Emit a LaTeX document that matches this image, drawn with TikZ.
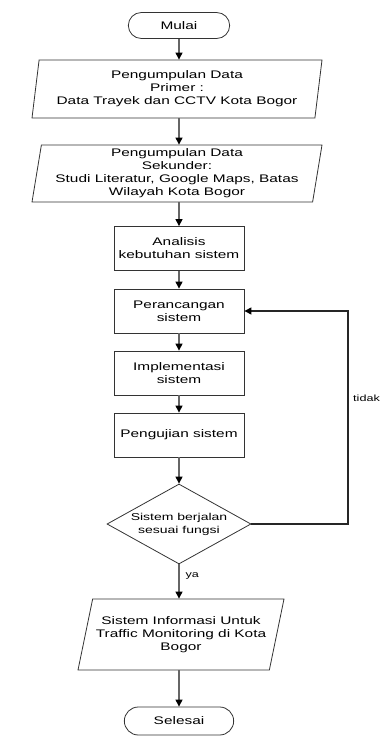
\documentclass[tikz,border=0pt]{standalone}
\usepackage{fontspec}
\setmainfont{Liberation Sans}[FakeStretch=1.4]
\usetikzlibrary{shapes.geometric, shapes.misc, arrows.meta}

\tikzset{
  terminal/.style={draw=black!80, line width=0.8pt, rounded rectangle, minimum width=108pt, minimum height=26pt},
  proses/.style={draw=black!80, line width=0.8pt, rectangle, minimum width=130pt, minimum height=44pt, align=center},
  data/.style={draw=black!80, line width=0.8pt, trapezium, trapezium stretches body, align=center, inner xsep=0pt, inner ysep=2pt},
  keputusan/.style={draw=black!80, line width=0.8pt, diamond, aspect=1.8, minimum width=144pt, minimum height=80pt, align=center, inner sep=0pt, font=\fontsize{10}{13}\selectfont},
  panah/.style={draw=black!60, line width=1.1pt, -{Triangle[width=7pt,length=7pt,color=black]}},
  label kecil/.style={font=\fontsize{9}{11}\selectfont, inner sep=0pt}
}

\begin{document}
\begin{tikzpicture}[x=1pt, y=1pt, font=\fontsize{11}{13}\selectfont]
        \useasboundingbox (0,0) rectangle (384,-738);

        % Alur utama
        \node[terminal] (mulai) at (179,-25.5) {Mulai};
        \node[data, trapezium left angle=80, trapezium right angle=100,
              minimum width=290pt, minimum height=58pt] (primer) at (177,-89)
          {Pengumpulan Data\\Primer :\\Data Trayek dan CCTV Kota Bogor};
        \node[data, trapezium left angle=80, trapezium right angle=100,
              minimum width=290pt, minimum height=57pt] (sekunder) at (177,-173.5)
          {Pengumpulan Data\\Sekunder:\\Studi Literatur, Google Maps, Batas\\Wilayah Kota Bogor};
        \node[proses] (analisis) at (179,-248.5) {Analisis\\kebutuhan sistem};
        \node[proses] (rancang) at (179,-311) {Perancangan\\sistem};
        \node[proses] (implementasi) at (179,-373) {Implementasi\\sistem};
        \node[proses] (uji) at (179,-435) {Pengujian sistem};
        \node[keputusan] (cek) at (179,-524) {Sistem berjalan\\sesuai fungsi};
        \node[data, trapezium left angle=70, trapezium right angle=110,
              minimum width=206pt, minimum height=71pt] (hasil) at (181,-634.5)
          {Sistem Informasi Untuk\\Traffic Monitoring di Kota\\Bogor};
        \node[terminal, minimum width=116pt, minimum height=28pt] (selesai) at (179,-721) {Selesai};

        \draw[panah] (mulai.south) -- (mulai.south |- primer.north);
        \draw[panah] (mulai.south |- primer.south) -- (mulai.south |- sekunder.north);
        \draw[panah] (analisis.north |- sekunder.south) -- (analisis.north);
        \draw[panah] (analisis) -- (rancang);
        \draw[panah] (rancang) -- (implementasi);
        \draw[panah] (implementasi) -- (uji);
        \draw[panah] (uji) -- (cek);
        \draw[panah] (cek.south) -- (cek.south |- hasil.north)
          node[label kecil, pos=0.35, anchor=west, xshift=6pt] (ya) {ya};
        \draw[panah] (selesai.north |- hasil.south) -- (selesai.north);

        % Kembali ke perancangan
        \coordinate (pojok) at (348,-524);
        \draw[panah, draw=black!85] (cek.east) -- (pojok) |- (rancang.east);
        \node[label kecil, anchor=west] (tidak) at (353,-398) {tidak};
\end{tikzpicture}
\end{document}
